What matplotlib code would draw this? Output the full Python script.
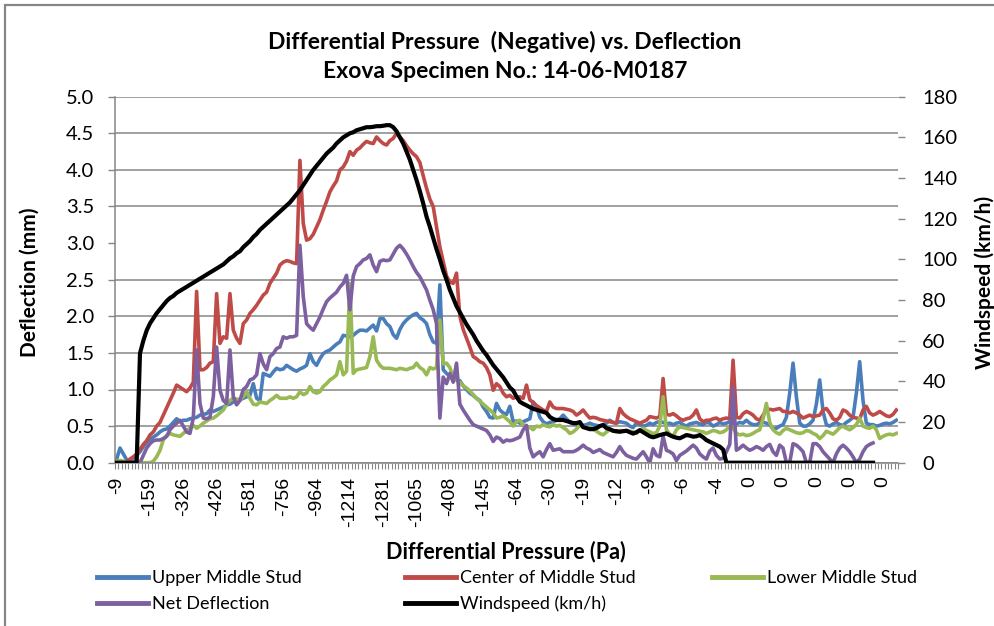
import numpy as np
import matplotlib as mpl
mpl.use('Agg')
import matplotlib.pyplot as plt
from matplotlib.patches import Rectangle

# labels shown under every 10th reading
pressure_labels = ['-9', '-159', '-326', '-426', '-581', '-756', '-964', '-1214',
                   '-1281', '-1065', '-408', '-145', '-64', '-30', '-19', '-12',
                   '-9', '-6', '-4', '0', '0', '0', '0', '0']

nan = np.nan

upper_stud = [
    0.05, 0.2, 0.12, 0.04, 0.01, 0.02, 0.1, 0.15, 0.22, 0.28,
    0.32, 0.35, 0.38, 0.42, 0.45, 0.46, 0.5, 0.55, 0.6, 0.56,
    0.58, 0.58, 0.6, 0.61, 0.62, 0.65, 0.66, 0.67, 0.72, 0.7,
    0.72, 0.74, 0.76, 0.79, 0.8, 0.83, 0.84, 0.86, 0.88, 0.9,
    0.92, 1.08, 0.88, 0.85, 1.22, 1.2, 1.18, 1.24, 1.29, 1.27,
    1.28, 1.33, 1.3, 1.27, 1.25, 1.28, 1.3, 1.33, 1.49, 1.38,
    1.33, 1.42, 1.49, 1.52, 1.54, 1.58, 1.62, 1.65, 1.74, 1.73,
    1.72, 1.74, 1.78, 1.81, 1.81, 1.8, 1.84, 1.88, 1.8, 1.97,
    1.97, 1.9, 1.86, 1.75, 1.7, 1.82, 1.9, 1.95, 1.99, 2.02,
    2.04, 1.98, 1.95, 1.9, 1.75, 1.65, 1.63, 2.43, 1.27, 1.22,
    1.18, 1.15, 1.13, 1.12, 1.05, 1.0, 0.95, 0.92, 0.88, 0.85,
    0.76, 0.7, 0.62, 0.61, 0.81, 0.72, 0.68, 0.66, 0.77, 0.56,
    0.57, 0.54, 0.56, 0.58, 0.6, 0.83, 0.77, 0.62, 0.56, 0.53,
    0.55, 0.56, 0.58, 0.6, 0.65, 0.6, 0.55, 0.53, 0.52, 0.51,
    0.51, 0.52, 0.54, 0.52, 0.51, 0.5, 0.52, 0.54, 0.58, 0.55,
    0.54, 0.56, 0.55, 0.54, 0.5, 0.48, 0.54, 0.52, 0.5, 0.51,
    0.54, 0.52, 0.55, 0.56, 0.55, 0.53, 0.54, 0.52, 0.54, 0.55,
    0.52, 0.5, 0.53, 0.54, 0.55, 0.53, 0.52, 0.55, 0.54, 0.5,
    0.52, 0.55, 0.53, 0.54, 0.56, 0.54, 0.53, 0.55, 0.54, 0.58,
    0.54, 0.52, 0.52, 0.54, 0.55, 0.54, 0.52, 0.46, 0.47, 0.5,
    0.52, 0.62, 0.95, 1.36, 0.9, 0.54, 0.5, 0.5, 0.53, 0.58,
    0.8, 1.13, 0.7, 0.52, 0.5, 0.53, 0.55, 0.52, 0.51, 0.55,
    0.58, 0.62, 0.95, 1.38, 0.85, 0.54, 0.52, 0.52, 0.5, 0.51,
    0.53, 0.54, 0.53, 0.55, 0.58]

center_stud = [
    0.0, 0.0, 0.0, 0.02, 0.05, 0.08, 0.12, 0.18, 0.25, 0.3,
    0.38, 0.42, 0.5, 0.55, 0.65, 0.75, 0.85, 0.95, 1.06, 1.03,
    1.0, 0.97, 1.02, 1.1, 2.34, 1.27, 1.27, 1.3, 1.36, 1.38,
    2.31, 1.63, 1.72, 1.7, 2.31, 1.81, 1.7, 1.63, 1.9, 1.95,
    2.04, 2.09, 2.15, 2.22, 2.29, 2.33, 2.45, 2.52, 2.59, 2.7,
    2.74, 2.76, 2.75, 2.73, 2.72, 4.13, 3.27, 3.04, 3.06, 3.12,
    3.22, 3.32, 3.45, 3.57, 3.7, 3.78, 3.85, 4.0, 4.04, 4.12,
    4.25, 4.2, 4.27, 4.3, 4.35, 4.39, 4.37, 4.36, 4.45, 4.4,
    4.36, 4.34, 4.4, 4.43, 4.5, 4.45, 4.4, 4.33, 4.27, 4.22,
    4.18, 4.1, 3.92, 3.75, 3.6, 3.5, 3.22, 2.95, 2.75, 2.55,
    2.47, 2.45, 2.59, 2.0, 1.82, 1.7, 1.58, 1.45, 1.42, 1.38,
    1.36, 1.3, 1.2, 0.99, 1.08, 1.04, 0.95, 0.9, 0.92, 0.88,
    0.9, 0.9, 0.88, 1.06, 0.86, 0.82, 0.78, 0.75, 0.72, 0.7,
    0.83, 0.76, 0.74, 0.74, 0.74, 0.73, 0.72, 0.7, 0.65, 0.68,
    0.72, 0.66, 0.61, 0.62, 0.61, 0.59, 0.58, 0.57, 0.56, 0.55,
    0.54, 0.74, 0.67, 0.63, 0.6, 0.58, 0.56, 0.54, 0.56, 0.58,
    0.63, 0.62, 0.61, 0.63, 1.15, 0.66, 0.65, 0.67, 0.64, 0.6,
    0.58, 0.6, 0.61, 0.65, 0.72, 0.6, 0.56, 0.58, 0.58, 0.6,
    0.61, 0.58, 0.6, 0.61, 0.6, 1.4, 0.62, 0.61, 0.67, 0.7,
    0.68, 0.65, 0.6, 0.58, 0.65, 0.72, 0.73, 0.72, 0.73, 0.74,
    0.7, 0.7, 0.68, 0.7, 0.68, 0.65, 0.61, 0.63, 0.65, 0.63,
    0.64, 0.65, 0.72, 0.74, 0.68, 0.6, 0.58, 0.62, 0.72, 0.7,
    0.65, 0.62, 0.61, 0.6, 0.72, 0.77, 0.68, 0.65, 0.67, 0.7,
    0.67, 0.64, 0.63, 0.66, 0.72]

lower_stud = [
    0.02, 0.03, 0.02, 0.0, 0.0, 0.0, 0.0, 0.0, 0.0, 0.0,
    0.0, 0.02, 0.08, 0.17, 0.31, 0.37, 0.4, 0.38, 0.37, 0.36,
    0.4, 0.44, 0.47, 0.51, 0.47, 0.5, 0.54, 0.57, 0.6, 0.61,
    0.64, 0.68, 0.72, 0.8, 0.85, 0.88, 0.87, 0.86, 0.9, 0.97,
    0.88, 0.8, 0.79, 0.83, 0.82, 0.81, 0.85, 0.88, 0.92, 0.88,
    0.88, 0.88, 0.9, 0.88, 0.9, 0.97, 0.93, 0.95, 1.04, 0.97,
    0.95, 0.97, 1.04, 1.08, 1.13, 1.16, 1.2, 1.38, 1.2, 1.25,
    2.45, 1.22, 1.27, 1.28, 1.29, 1.3, 1.45, 1.72, 1.4, 1.33,
    1.29, 1.29, 1.29, 1.28, 1.27, 1.29, 1.28, 1.27, 1.29, 1.3,
    1.36, 1.3, 1.27, 1.2, 1.3, 1.28, 1.3, 1.95, 1.35, 1.36,
    1.3, 1.17, 1.13, 1.1, 1.05, 1.02, 0.98, 0.93, 0.88, 0.84,
    0.8, 0.76, 0.72, 0.68, 0.61, 0.62, 0.64, 0.6, 0.56, 0.5,
    0.56, 0.58, 0.52, 0.5, 0.48, 0.45, 0.5, 0.49, 0.52, 0.5,
    0.49, 0.52, 0.5, 0.51, 0.48, 0.45, 0.4, 0.42, 0.46, 0.51,
    0.49, 0.48, 0.49, 0.46, 0.43, 0.4, 0.38, 0.42, 0.45, 0.43,
    0.42, 0.44, 0.43, 0.44, 0.43, 0.42, 0.4, 0.44, 0.47, 0.44,
    0.42, 0.4, 0.41, 0.5, 0.9, 0.45, 0.39, 0.36, 0.45, 0.49,
    0.48, 0.47, 0.46, 0.45, 0.44, 0.43, 0.42, 0.4, 0.42, 0.44,
    0.43, 0.41, 0.42, 0.45, 0.5, 0.47, 0.4, 0.38, 0.39, 0.37,
    0.38, 0.4, 0.43, 0.45, 0.6, 0.81, 0.55, 0.45, 0.41, 0.39,
    0.44, 0.47, 0.45, 0.43, 0.41, 0.4, 0.41, 0.44, 0.43, 0.4,
    0.38, 0.33, 0.37, 0.43, 0.41, 0.39, 0.43, 0.48, 0.5, 0.47,
    0.45, 0.48, 0.52, 0.61, 0.5, 0.48, 0.47, 0.5, 0.45, 0.33,
    0.36, 0.38, 0.39, 0.38, 0.4]

net_deflection = [
    0.0, 0.0, 0.0, 0.0, 0.0, 0.0, 0.0, 0.0, 0.1, 0.2,
    0.26, 0.3, 0.31, 0.31, 0.33, 0.36, 0.45, 0.5, 0.54, 0.58,
    0.5, 0.42, 0.4, 0.61, 1.54, 0.81, 0.61, 0.6, 0.62, 0.9,
    1.58, 0.99, 0.85, 0.81, 1.54, 0.9, 0.79, 0.85, 1.0, 1.04,
    1.13, 1.15, 1.2, 1.49, 1.35, 1.27, 1.45, 1.49, 1.56, 1.58,
    1.72, 1.7, 1.72, 1.72, 1.74, 2.97, 2.27, 1.9, 1.85, 1.81,
    1.9, 1.99, 2.1, 2.2, 2.25, 2.29, 2.33, 2.4, 2.45, 2.56,
    2.09, 2.55, 2.68, 2.72, 2.77, 2.79, 2.84, 2.7, 2.61, 2.75,
    2.77, 2.76, 2.77, 2.85, 2.93, 2.97, 2.92, 2.85, 2.77, 2.68,
    2.6, 2.54, 2.45, 2.36, 2.22, 2.09, 1.9, 0.61, 1.17, 1.08,
    1.22, 1.1, 1.36, 0.8, 0.72, 0.65, 0.58, 0.52, 0.5, 0.48,
    0.46, 0.44, 0.38, 0.29, 0.35, 0.33, 0.28, 0.31, 0.3, 0.31,
    0.33, 0.35, 0.45, 0.51, 0.2, 0.08, 0.12, 0.15, 0.08, 0.18,
    0.26, 0.17, 0.18, 0.19, 0.15, 0.15, 0.15, 0.15, 0.17, 0.2,
    0.24, 0.2, 0.18, 0.14, 0.16, 0.18, 0.14, 0.12, 0.1, 0.08,
    0.14, 0.22, 0.15, 0.1, 0.08, 0.06, 0.05, 0.1, 0.15, 0.08,
    0.0, 0.19, 0.1, 0.08, 0.36, 0.17, 0.15, 0.12, 0.03, 0.1,
    0.13, 0.16, 0.2, 0.24, 0.2, 0.12, 0.08, 0.05, 0.16, 0.2,
    0.1, 0.05, 0.06, 0.15, 0.25, 1.02, 0.17, 0.2, 0.24, 0.2,
    0.17, 0.19, 0.22, 0.2, 0.17, 0.22, 0.25, 0.15, 0.1, 0.24,
    0.2, 0.0, 0.0, 0.26, 0.24, 0.2, 0.15, 0.0, 0.0, 0.26,
    0.26, 0.22, 0.15, 0.1, 0.05, 0.0, 0.12, 0.2, 0.24, 0.2,
    0.15, 0.08, 0.0, 0.05, 0.15, 0.22, 0.25, 0.27, nan, nan,
    nan, nan, nan, nan, nan]

windspeed = [
    0, 0, 0, 0, 0, 0, 0, 53.8, 60, 65,
    68.5, 71, 73.5, 75.5, 77.5, 79.5, 81, 82, 83.5, 84.5,
    85.5, 86.5, 87.5, 88.5, 89.5, 90.5, 91.5, 92.5, 93.5, 94.5,
    95.5, 96.5, 97.5, 99, 100.5, 101.5, 103, 104, 106, 107.5,
    109, 111, 112.5, 114.5, 116, 117.5, 119, 120.5, 122, 123.5,
    125, 126.5, 128, 130, 132, 134, 136.5, 139, 141.5, 144,
    146, 148, 150, 152, 153.5, 155, 157, 158.5, 160, 161,
    162, 162.5, 163.5, 164, 164.5, 165, 165, 165.2, 165.5, 165.5,
    165.7, 166, 166, 165, 163, 160, 157, 153, 149, 144,
    139, 133.5, 127.5, 121, 116, 110.5, 105, 100, 94.5, 90,
    85, 81, 77, 74, 71, 68, 65.5, 63, 60, 57.5,
    55, 53, 50.5, 48, 46, 44, 42, 39.5, 37, 35.5,
    32.5, 30, 29, 28.2, 27.3, 26.5, 26, 25.5, 25, 24.5,
    22.5, 21.5, 21, 21, 21, 20.5, 20, 19.5, 19.5, 20,
    17.5, 17, 16.5, 16.5, 17, 18, 18.5, 17, 16.5, 15.7,
    15.5, 15.2, 15.5, 15.7, 15, 14.3, 15, 16, 15, 14,
    13, 12.5, 13, 13.6, 14, 14.4, 13.5, 12.8, 12.3, 12,
    12.8, 13.6, 13.3, 12.8, 13, 13.6, 12.5, 11.1, 10.3, 9.5,
    8.7, 7.9, 6.5, 0, 0, 0, 0, 0, 0, 0,
    0, 0, 0, 0, 0, 0, 0, 0, 0, 0,
    0, 0, 0, 0, 0, 0, 0, 0, 0, 0,
    0, 0, 0, 0, 0, 0, 0, 0, 0, 0,
    0, 0, 0, 0, 0, 0, 0, 0, nan, nan,
    nan, nan, nan, nan, nan]

grey = '#868686'
calibri = ['Lato', 'DejaVu Sans']

fig = plt.figure(figsize=(9.95, 6.26), dpi=100)
ax = fig.add_axes([115 / 995, 1 - 462.7 / 626, 783 / 995, 366 / 626])
ax2 = ax.twinx()

x = np.arange(len(upper_stud))
l1, = ax.plot(x, upper_stud, color='#4A7EBB', lw=2.6, label='Upper Middle Stud')
l2, = ax.plot(x, center_stud, color='#BE4B48', lw=2.6, label='Center of Middle Stud')
l3, = ax.plot(x, lower_stud, color='#98B954', lw=2.6, label='Lower Middle Stud')
l4, = ax.plot(x, net_deflection, color='#7D60A0', lw=2.6, label='Net Deflection')
l5, = ax2.plot(x, windspeed, color='black', lw=3.0, label='Windspeed (km/h)')

ax.set_xlim(-0.5, len(x) - 0.5)
ax.set_ylim(0, 5)
ax2.set_ylim(0, 180)

# left axis
yt = np.arange(0, 5.01, 0.5)
ax.set_yticks(yt)
ax.set_yticklabels(['%.1f' % v for v in yt], family=calibri, fontsize=14.5)
ax.tick_params(axis='y', length=5, width=1, color=grey, pad=10)
ax.yaxis.grid(True, color=grey, lw=1.1)
ax.get_ygridlines()[6].set_visible(False)
ax.set_axisbelow(True)

# category axis
ax.set_xticks(np.arange(0, len(x), 10))
ax.set_xticklabels(pressure_labels, rotation=90, family=['Liberation Sans', 'DejaVu Sans'],
                   fontsize=14)
ax.set_xticks(np.arange(-0.5, len(x), 1), minor=True)
ax.tick_params(axis='x', which='major', length=0, pad=10)
ax.tick_params(axis='x', which='minor', length=4.3, width=0.8, color=grey)

for s in ['top', 'right']:
    ax.spines[s].set_visible(False)
for s in ['left', 'bottom']:
    ax.spines[s].set_color(grey)
    ax.spines[s].set_linewidth(1.1)

# right axis
ax2.set_yticks(np.arange(0, 181, 20))
ax2.set_yticklabels([str(v) for v in range(0, 181, 20)], family=calibri, fontsize=14.5)
ax2.tick_params(axis='y', length=5, width=1, color=grey, pad=12.5)
for s in ax2.spines.values():
    s.set_visible(False)

# titles
fig.text(505 / 995, 1 - 42 / 626, 'Differential Pressure  (Negative) vs. Deflection',
         ha='center', va='center', family=calibri, fontsize=16.5, fontweight='bold')
fig.text(505 / 995, 1 - 72 / 626, 'Exova Specimen No.: 14-06-M0187',
         ha='center', va='center', family=calibri, fontsize=16.5, fontweight='bold')
fig.text(30 / 995, 1 - 282 / 626, 'Deflection (mm)', rotation=90, ha='center', va='center',
         family=calibri, fontsize=15, fontweight='bold')
fig.text(985 / 995, 1 - 282 / 626, 'Windspeed (km/h)', rotation=90, ha='center', va='center',
         family=calibri, fontsize=15, fontweight='bold')
fig.text(506 / 995, 1 - 552 / 626, 'Differential Pressure (Pa)', ha='center', va='center',
         family=calibri, fontsize=15.5, fontweight='bold')

# legend, three columns placed like the original
cols = [([l1, l4], 97), ([l2, l5], 405), ([l3], 712)]
for handles, px in cols:
    leg = fig.legend(handles=handles, loc='upper left', bbox_to_anchor=(px / 995, 1 - 570 / 626),
                     frameon=False, borderpad=0, borderaxespad=0, handlelength=2.8,
                     handletextpad=0.25, labelspacing=0.55,
                     prop={'family': calibri, 'size': 13})
    for h in leg.get_lines():
        h.set_linewidth(3.5)

fig.patches.append(Rectangle((5 / 995, -0.1), 1.2, 1.1 - 5 / 626, fill=False,
                             edgecolor=grey, lw=1.6, transform=fig.transFigure))

fig.savefig('out.png', dpi=100)
